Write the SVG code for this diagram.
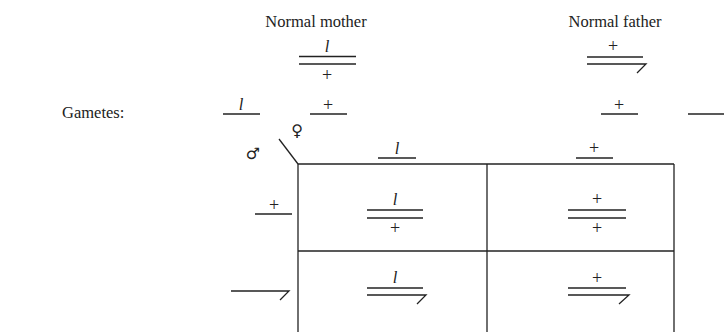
<svg xmlns="http://www.w3.org/2000/svg" width="724" height="332" viewBox="0 0 724 332">
<style>
text{font-family:"Liberation Serif","Times New Roman",serif;font-size:16.5px;fill:#222}
.m{text-anchor:middle}
.i{font-style:italic}
.p{font-size:18px}
.sym{font-family:"DejaVu Sans",sans-serif;font-size:16px}
line,polyline{stroke:#222;stroke-width:1.3;fill:none}
</style>
<rect width="724" height="332" fill="#fff"/>
<g id="mother">
<text class="m" x="316" y="27">Normal mother</text>
<text class="m i" x="327" y="52">l</text>
<line x1="299" y1="56.5" x2="356" y2="56.5"/>
<line x1="299" y1="64" x2="356" y2="64"/>
<text class="m p" x="327" y="81">+</text>
</g>
<g id="father">
<text class="m" x="615" y="27">Normal father</text>
<text class="m p" x="613" y="52">+</text>
<line x1="587" y1="57" x2="643" y2="57"/>
<polyline points="587,64 646,64 637,73"/>
</g>
<g id="gametes">
<text x="62" y="118">Gametes:</text>
<text class="m i" x="241" y="110">l</text>
<line x1="223" y1="114" x2="260" y2="114"/>
<text class="m p" x="328" y="111">+</text>
<line x1="310" y1="114" x2="347" y2="114"/>
<text class="m p" x="619" y="111">+</text>
<line x1="601" y1="114" x2="638" y2="114"/>
<line x1="688" y1="114" x2="724" y2="114"/>
</g>
<g id="sexes">
<text class="m sym" x="297" y="136">♀</text>
<text class="m sym" x="253" y="159">♂</text>
<line x1="279" y1="139" x2="298" y2="164"/>
</g>
<g id="connectors">
<line x1="298" y1="164" x2="674" y2="164"/>
<line x1="298" y1="251" x2="674" y2="251"/>
<line x1="298" y1="164" x2="298" y2="332"/>
<line x1="487" y1="164" x2="487" y2="332"/>
<line x1="674" y1="164" x2="674" y2="332"/>
</g>
<g id="col1">
<text class="m i" x="397" y="154">l</text>
<line x1="378" y1="158" x2="416" y2="158"/>
</g>
<g id="col2">
<text class="m p" x="594" y="154">+</text>
<line x1="576" y1="158" x2="613" y2="158"/>
</g>
<g id="row1">
<text class="m p" x="274" y="211">+</text>
<line x1="255" y1="214" x2="292" y2="214"/>
</g>
<g id="row2">
<polyline points="231,291 289,291 280,300"/>
</g>
<g id="cell11">
<text class="m i" x="395" y="205">l</text>
<line x1="367" y1="210" x2="423" y2="210"/>
<line x1="367" y1="218" x2="423" y2="218"/>
<text class="m p" x="395" y="234">+</text>
</g>
<g id="cell12">
<text class="m p" x="597" y="205">+</text>
<line x1="568" y1="210" x2="626" y2="210"/>
<line x1="568" y1="218" x2="626" y2="218"/>
<text class="m p" x="597" y="234">+</text>
</g>
<g id="cell21">
<text class="m i" x="395" y="283">l</text>
<line x1="367" y1="288" x2="423" y2="288"/>
<polyline points="367,295 426,295 417,304"/>
</g>
<g id="cell22">
<text class="m p" x="597" y="284">+</text>
<line x1="568" y1="288" x2="626" y2="288"/>
<polyline points="568,295 629,295 619,304"/>
</g>
</svg>
